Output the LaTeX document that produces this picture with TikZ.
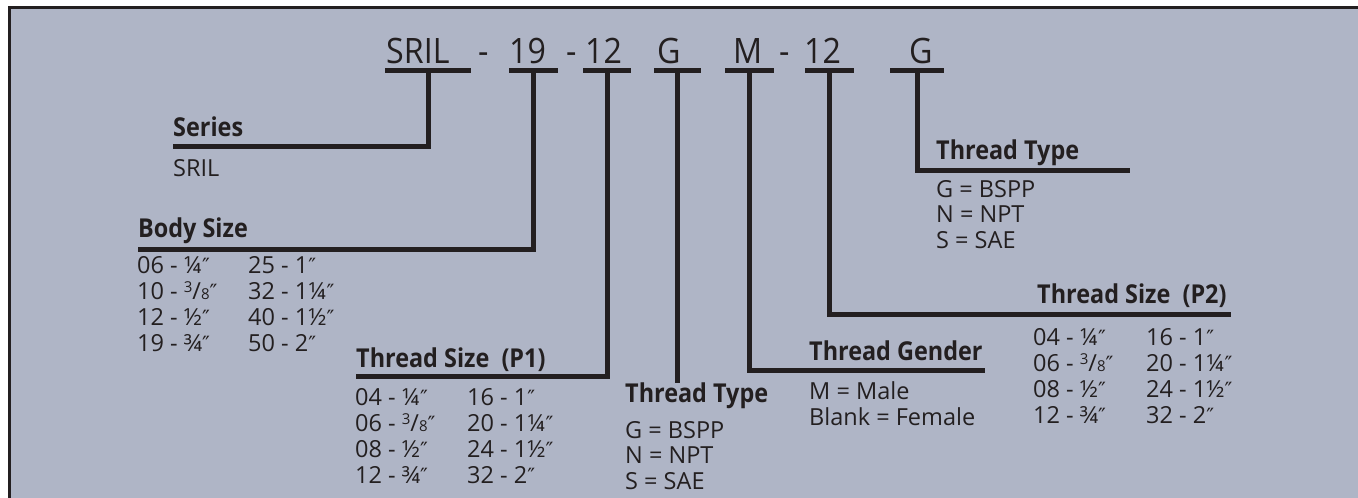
\documentclass[tikz,border=0pt]{standalone}
\usepackage{fontspec}
\setmainfont{Open Sans}
\newfontfamily\labfont{Open Sans}[FakeStretch=0.9]
\newfontfamily\codefont{Open Sans}[FakeStretch=0.92]
\newfontfamily\dvfont{DejaVu Sans}
\definecolor{bgc}{RGB}{175,181,198}
\definecolor{ink}{RGB}{35,31,32}
\newcommand\inch{{\dvfont\fontsize{21}{21}\selectfont″}}
\newcommand\tq{{\fontsize{15}{15}\selectfont\raisebox{7pt}{3}}/{\fontsize{15}{15}\selectfont 8}}
\begin{document}
\begin{tikzpicture}[x=1pt,y=-1pt,
  code/.style={font=\codefont\fontsize{35}{35}\selectfont, text=ink, anchor=base west, inner sep=0pt},
  lab/.style={font=\labfont\bfseries\fontsize{26}{26}\selectfont, text=ink, anchor=base west, inner sep=0pt},
  val/.style={font=\fontsize{23.5}{26}\selectfont, text=ink, anchor=base west, inner sep=0pt},
  bar/.style={fill=ink, minimum height=5pt, inner sep=0pt, outer sep=0pt},
  lead/.style={draw=ink, line width=5pt, line join=miter}]
\useasboundingbox (0,0) rectangle (1358,498);
\fill[white] (0,0) rectangle (1358,498);
\fill[bgc] (8,7) rectangle (1358,498);
\draw[ink, line width=2.6pt, line join=miter] (9.5,498) -- (9.5,7.3) -- (1358,7.3);
% code row
\node[code] (cA) at (386,63) {SRIL};
\node[code] (h1) at (478,63) {-};
\node[code] (cB) at (509,63) {19};
\node[code] (h2) at (566,63) {-};
\node[code] (cC) at (585,63) {12};
\node[code] (cD) at (657,63) {G};
\node[code] (cE) at (733,63) {M};
\node[code] (h3) at (779,63) {-};
\node[code] (cF) at (804,63) {12};
\node[code] (cG) at (909,63) {G};
% bars
\node[bar, minimum width=86pt] (bA) at (428,70.5) {};
\node[bar, minimum width=49pt] (bB) at (533,70.5) {};
\node[bar, minimum width=48pt] (bC) at (607,70.5) {};
\node[bar, minimum width=47pt] (bD) at (677,70.5) {};
\node[bar, minimum width=49pt] (bE) at (749,70.5) {};
\node[bar, minimum width=49pt] (bF) at (829,70.5) {};
\node[bar, minimum width=54pt] (bG) at (917,70.5) {};
% line ends
\coordinate (eA) at (173,146.5);
\coordinate (eB) at (138,249);
\coordinate (eC) at (356,376);
\coordinate (eD) at (677,383);
\coordinate (eE) at (985,370);
\coordinate (eF) at (1231,314.5);
\coordinate (eG) at (1130,170);
% leaders
\draw[lead] (bA.center) -- (bA.center |- eA) -- (eA);
\draw[lead] (bB.center) -- (bB.center |- eB) -- (eB);
\draw[lead] (bC.center) -- (bC.center |- eC) -- (eC);
\draw[lead] (bD.center) -- (eD);
\draw[lead] (bE.center) -- (bE.center |- eE) -- (eE);
\draw[lead] (bF.center) -- (bF.center |- eF) -- (eF);
\draw[lead] (bG.center) -- (bG.center |- eG) -- (eG);
% Series
\node[lab] (lA) at (173,136) {Series};
\node[val] (vA) at (173,176) {SRIL};
% Body size
\node[lab] (lB) at (138,237) {Body Size};
\node[val] (vB1) at (137,273) {06 - ¼\inch};
\node[val] (vB2) at (137,299) {10 - \tq\inch};
\node[val] (vB3) at (137,325) {12 - ½\inch};
\node[val] (vB4) at (137,351) {19 - ¾\inch};
\node[val] (vB5) at (248,273) {25 - 1\inch};
\node[val] (vB6) at (248,299) {32 - 1¼\inch};
\node[val] (vB7) at (248,325) {40 - 1½\inch};
\node[val] (vB8) at (248,351) {50 - 2\inch};
% Thread size P1
\node[lab] (lC) at (356,367) {Thread Size\ \ (P1)};
\node[val] (vC1) at (355,405) {04 - ¼\inch};
\node[val] (vC2) at (355,431) {06 - \tq\inch};
\node[val] (vC3) at (355,457) {08 - ½\inch};
\node[val] (vC4) at (355,483) {12 - ¾\inch};
\node[val] (vC5) at (467,405) {16 - 1\inch};
\node[val] (vC6) at (467,431) {20 - 1¼\inch};
\node[val] (vC7) at (467,457) {24 - 1½\inch};
\node[val] (vC8) at (467,483) {32 - 2\inch};
% Thread type (mid)
\node[lab] (lD) at (625,402) {Thread Type};
\node[val] (vD1) at (625,438) {G = BSPP};
\node[val] (vD2) at (625,463.5) {N = NPT};
\node[val] (vD3) at (625,489) {S = SAE};
% Thread gender
\node[lab] (lE) at (809,360) {Thread Gender};
\node[val] (vE1) at (809,399) {M = Male};
\node[val] (vE2) at (809,425) {Blank = Female};
% Thread size P2
\node[lab] (lF) at (1037,303) {Thread Size\ \ (P2)};
\node[val] (vF1) at (1033,345) {04 - ¼\inch};
\node[val] (vF2) at (1033,371) {06 - \tq\inch};
\node[val] (vF3) at (1033,397) {08 - ½\inch};
\node[val] (vF4) at (1033,423) {12 - ¾\inch};
\node[val] (vF5) at (1146,345) {16 - 1\inch};
\node[val] (vF6) at (1146,371) {20 - 1¼\inch};
\node[val] (vF7) at (1146,397) {24 - 1½\inch};
\node[val] (vF8) at (1146,423) {32 - 2\inch};
% Thread type (right)
\node[lab] (lG) at (936,159) {Thread Type};
\node[val] (vG1) at (936,197) {G = BSPP};
\node[val] (vG2) at (936,222.5) {N = NPT};
\node[val] (vG3) at (936,248) {S = SAE};
\end{tikzpicture}
\end{document}
